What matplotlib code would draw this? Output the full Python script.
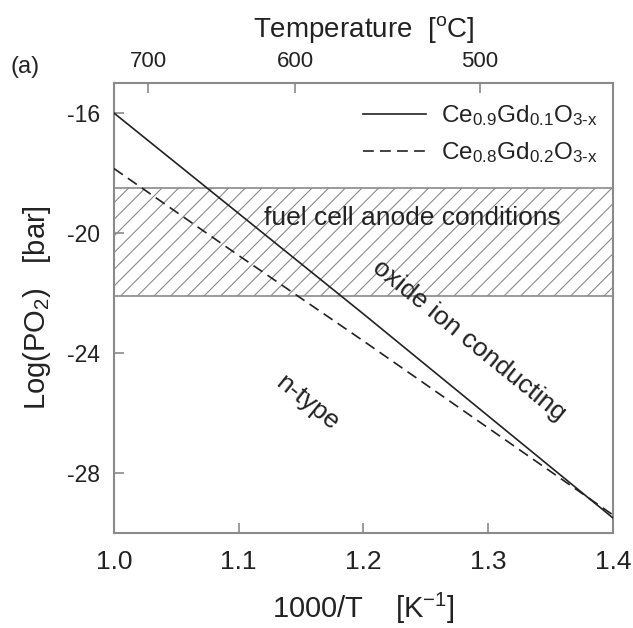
import numpy as np
import matplotlib.pyplot as plt

plt.rcParams['font.family'] = ['Liberation Sans', 'DejaVu Sans']
plt.rcParams['mathtext.fontset'] = 'custom'
plt.rcParams['mathtext.rm'] = 'Liberation Sans'
plt.rcParams['mathtext.it'] = 'Liberation Sans'
plt.rcParams['mathtext.default'] = 'regular'
plt.rcParams['axes.unicode_minus'] = False
plt.rcParams['hatch.color'] = '#808080'
plt.rcParams['hatch.linewidth'] = 0.8

# data
inv_T = [1.0, 1.1, 1.2, 1.3, 1.4]
gdc10 = [-16.0, -19.35, -22.7, -26.1, -29.5]
gdc20 = [-17.85, -20.75, -23.6, -26.5, -29.4]
anode_band = [-22.09, -18.49]
temps_C = [700, 600, 500]
y_ticks = [-16, -20, -24, -28]
x_ticks = [1.0, 1.1, 1.2, 1.3, 1.4]

ink = '#222222'
frame = '#8a8a8a'

fig = plt.figure(figsize=(6.33, 6.28), dpi=100)
ax = fig.add_axes([0.180, 0.1513, 0.7884, 0.7165])

ax.fill_between([1.0, 1.4], anode_band[0], anode_band[1], facecolor='white',
                edgecolor='#8a8a8a', hatch='//', linewidth=0, zorder=1)
ax.axhline(anode_band[0], color='#8a8a8a', lw=1.2, zorder=1.5)
ax.axhline(anode_band[1], color='#8a8a8a', lw=1.2, zorder=1.5)

ax.plot(inv_T, gdc10, color=ink, lw=1.2,
        label=r'Ce$_{0.9}$Gd$_{0.1}$O$_{3\text{-}x}$', zorder=3)
ax.plot(inv_T, gdc20, color=ink, lw=1.2, dashes=(6.5, 3.7),
        label=r'Ce$_{0.8}$Gd$_{0.2}$O$_{3\text{-}x}$', zorder=3)

ax.set_xlim(1.0, 1.4)
ax.set_ylim(-30, -15)
ax.set_xticks(x_ticks)
ax.set_xticklabels(['%.1f' % v for v in x_ticks])
ax.set_yticks(y_ticks)
ax.tick_params(axis='x', direction='in', length=7, width=1.2, color=frame,
               labelsize=19, labelcolor=ink, pad=12)
ax.tick_params(axis='y', direction='in', length=7, width=1.2, color=frame,
               labelsize=16.5, labelcolor=ink, pad=10)
for s in ax.spines.values():
    s.set_color(frame)
    s.set_linewidth(1.5)

ax.set_xlabel(r'1000/T    [K$^{-1}$]', fontsize=21, color=ink, labelpad=12)
ax.set_ylabel(r'Log(PO$_2$)   [bar]', fontsize=21, color=ink, labelpad=10)

top = ax.twiny()
top.set_xlim(ax.get_xlim())
top.set_xticks([1000.0 / (t + 273.15) for t in temps_C])
top.set_xticklabels([str(t) for t in temps_C])
top.tick_params(axis='x', direction='in', length=7, width=1.2, color=frame,
                labelsize=16, labelcolor=ink, pad=8)
for s in top.spines.values():
    s.set_visible(False)
top.set_xlabel(r'Temperature  [$^{o}$C]', fontsize=20, color=ink, labelpad=10)

ax.text(1.239, -19.5, 'fuel cell anode conditions', fontsize=19, color=ink,
        ha='center', va='center', zorder=4)
ax.text(1.285, -23.57, 'oxide ion conducting', fontsize=19, color=ink,
        ha='center', va='center', rotation=-39, rotation_mode='anchor', zorder=4)
ax.text(1.155, -25.67, 'n-type', fontsize=19, color=ink,
        ha='center', va='center', rotation=-39, rotation_mode='anchor', zorder=4)

ax.legend(loc='upper right', bbox_to_anchor=(1.003, 0.993), frameon=False,
          fontsize=17.5, handlelength=2.6, handletextpad=0.6, labelspacing=0.5,
          borderaxespad=0.3, labelcolor=ink)

fig.text(0.016, 1 - 67 / 628, '(a)', fontsize=17, color=ink, va='center', ha='left')

fig.savefig('out.png', dpi=100)
